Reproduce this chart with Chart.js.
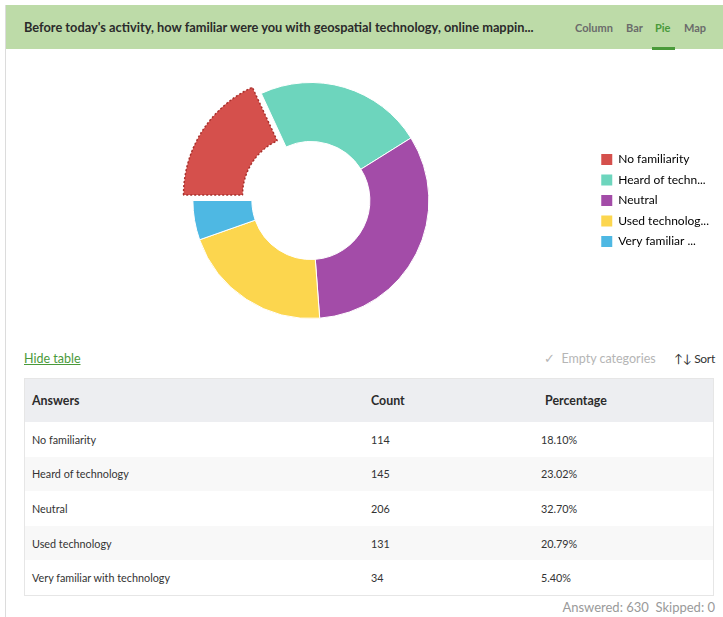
<!DOCTYPE html>
<html>
<head>
<meta charset="utf-8">
<script src="https://cdn.jsdelivr.net/npm/chart.js@4.4.1/dist/chart.umd.min.js"></script>
<style>
  body { margin: 0; background: #fff; font-family: Lato, "Open Sans", sans-serif; color: #333; }
  #frame { position: absolute; left: 5px; top: 5px; width: 718px; height: 612px; border-left: 1px solid #dcdcdc; }
  #header { position: absolute; left: 0; top: 0; width: 718px; height: 44px; background: #bddba8; }
  #title { position: absolute; left: 18px; top: 14px; font-size: 12.8px; font-weight: 700; color: #2b2b2b; white-space: nowrap; }
  .tab { position: absolute; top: 16px; font-size: 11px; font-weight: 700; color: #6b6b6b; }
  .tab.on { color: #4a9a3a; }
  #underline { position: absolute; left: 646px; top: 42px; width: 23px; height: 3px; background: #4a9a3a; }
  #chartBox { position: absolute; left: 0; top: 45px; width: 718px; height: 300px; }
  #hide { position: absolute; left: 18px; top: 346px; font-size: 12.5px; color: #4a9a3a; text-decoration: underline; }
  #empty { position: absolute; left: 538px; top: 346px; font-size: 12.5px; color: #b5b5b5; }
  #sort { position: absolute; left: 668px; top: 346px; font-size: 12px; color: #333; letter-spacing: -0.3px; }
  table { position: absolute; left: 18px; top: 373px; width: 690px; border-collapse: collapse; border: 1px solid #e6e6e6; }
  th { background: #edeef1; height: 43px; text-align: left; font-size: 12.4px; font-weight: 700; color: #2b2b2b; padding: 0 0 0 7px; }
  td { height: 34.6px; font-size: 10.8px; color: #333; padding: 0 0 0 7px; }
  tr.alt td { background: #f8f8f8; }
  #footer { position: absolute; right: 9px; top: 594px; font-size: 13px; color: #9a9a9a; white-space: pre; }
</style>
</head>
<body>
<div id="frame">
  <div id="header">
    <div id="title">Before today's activity, how familiar were you with geospatial technology, online mappin...</div>
    <div class="tab" style="left:569px">Column</div>
    <div class="tab" style="left:620px">Bar</div>
    <div class="tab on" style="left:649px">Pie</div>
    <div class="tab" style="left:678px">Map</div>
    <div id="underline"></div>
  </div>
  <div id="chartBox"><canvas id="pieChart"></canvas></div>
  <div id="hide">Hide table</div>
  <div id="empty">&#10003;&nbsp; Empty categories</div>
  <div id="sort">&#8593;&#8595; Sort</div>
  <table id="tabla"></table>
  <div id="footer"></div>
</div>
<script>
const answers = ['No familiarity', 'Heard of technology', 'Neutral', 'Used technology', 'Very familiar with technology'];
const counts = [114, 145, 206, 131, 34];
const colores = ['#d5504c', '#6dd5bd', '#a34ca8', '#fcd64e', '#4eb8e3'];
const skipped = 0;

document.addEventListener('DOMContentLoaded', function() {
    const total = counts.reduce((a, b) => a + b, 0);

    // tabla
    const tabla = document.getElementById('tabla');
    let html = '<tr><th style="width:332px">Answers</th><th style="width:167px">Count</th><th>Percentage</th></tr>';
    for (let i = 0; i < answers.length; i++) {
        const pct = (counts[i] / total * 100).toFixed(2) + '%';
        html += `<tr class="${i % 2 === 1 ? 'alt' : ''}"><td>${answers[i]}</td><td>${counts[i]}</td><td style="padding-left:3px">${pct}</td></tr>`;
    }
    tabla.innerHTML = html;
    document.getElementById('footer').textContent = `Answered: ${total}  Skipped: ${skipped}`;

    const recortar = (txt) => txt.length > 14 ? txt.slice(0, 14) + '...' : txt;

    const ctx = document.getElementById('pieChart').getContext('2d');
    new Chart(ctx, {
        type: 'doughnut',
        data: {
            labels: answers,
            datasets: [{
                data: counts,
                backgroundColor: colores,
                borderColor: (c) => c.dataIndex === 0 ? '#a8302c' : '#fff',
                borderWidth: (c) => c.dataIndex === 0 ? 1.5 : 1,
                borderDash: (c) => c.dataIndex === 0 ? [2, 2] : [],
                offset: (c) => c.dataIndex === 0 ? 40 : 0
            }]
        },
        options: {
            responsive: true,
            maintainAspectRatio: false,
            animation: false,
            rotation: -90,
            cutout: '50%',
            radius: 118,
            layout: { padding: { left: 23, right: 5, top: 1, bottom: 0 } },
            plugins: {
                tooltip: { enabled: false },
                legend: {
                    position: 'right',
                    align: 'center',
                    labels: {
                        boxWidth: 11,
                        boxHeight: 11,
                        padding: 8.5,
                        color: '#555',
                        font: { family: 'Lato', size: 12 },
                        generateLabels: (chart) => answers.map((a, i) => ({
                            text: recortar(a),
                            fillStyle: colores[i],
                            strokeStyle: colores[i],
                            lineWidth: 0,
                            index: i
                        }))
                    }
                }
            }
        }
    });
});
</script>
</body>
</html>
